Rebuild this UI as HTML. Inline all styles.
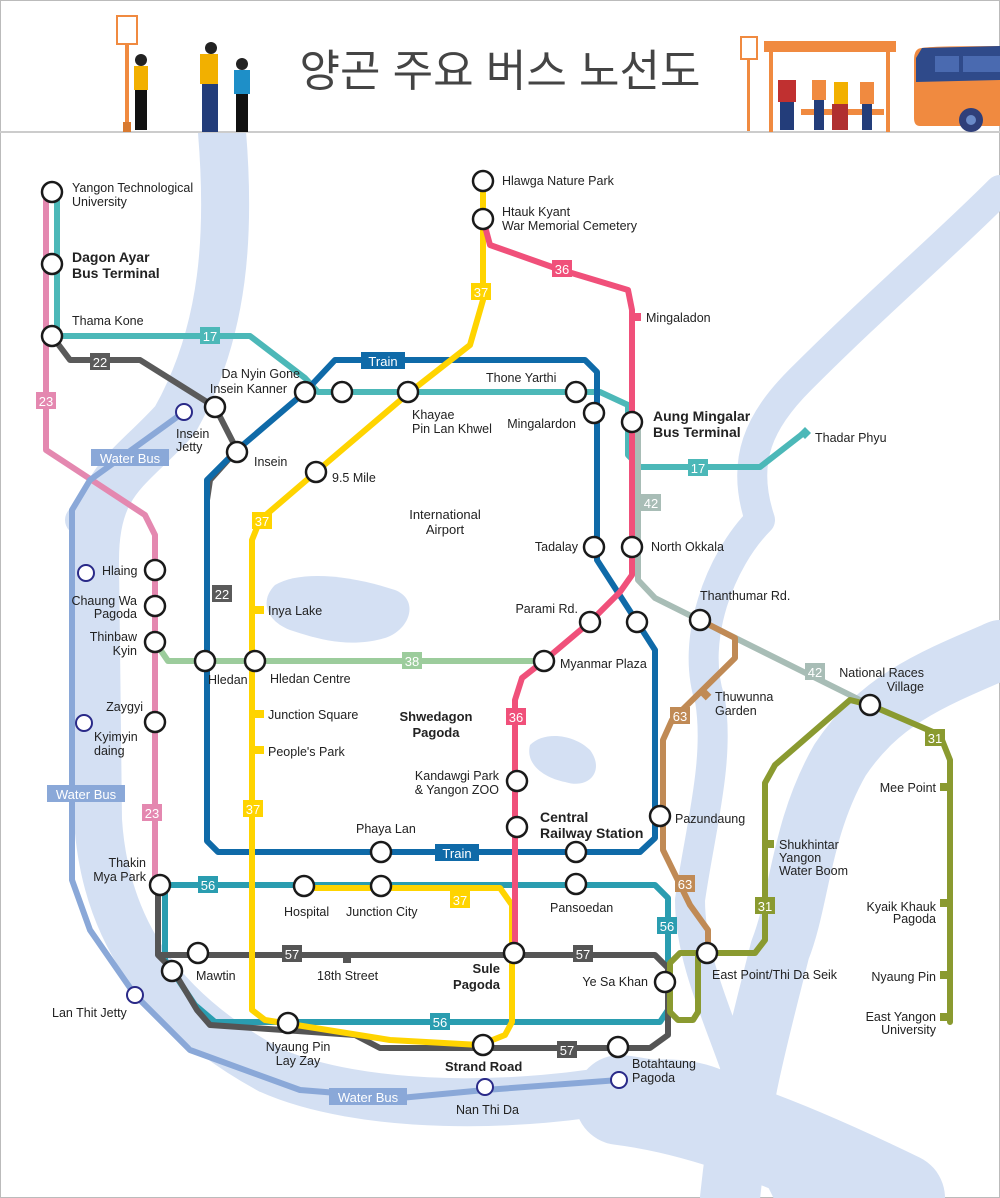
<!DOCTYPE html>
<html><head><meta charset="utf-8"><style>
html,body{margin:0;padding:0;background:#fff}
svg{display:block}
text{font-family:"Liberation Sans","Noto Sans CJK KR",sans-serif;font-size:12.5px;fill:#222}
.b{font-size:14px;font-weight:bold}
.r{text-anchor:end}.m{text-anchor:middle}
.st{fill:#fff;stroke:#1a1a1a;stroke-width:2.5}
.jt{fill:#fff;stroke:#2a2a88;stroke-width:2}
.ln{fill:none;stroke-width:6;stroke-linejoin:round;stroke-linecap:round}
.lb{font-size:13px;fill:#fff;text-anchor:middle}
</style></head><body>
<svg width="1000" height="1198" viewBox="0 0 1000 1198" xmlns="http://www.w3.org/2000/svg">
<rect x="0.5" y="0.5" width="999" height="1197" fill="#fff" stroke="#bbb"/>
<!-- rivers -->
<g fill="none" stroke="#d4e0f3" stroke-linecap="round" stroke-linejoin="round">
<path d="M222 132 C230 230 226 330 175 420 C130 470 95 480 95 560 L98 820 C105 930 160 1010 270 1070 C360 1110 520 1110 640 1085 C720 1075 760 1110 800 1198" stroke-width="48"/>
<path d="M80 520 L130 470" stroke-width="30"/>
<path d="M1000 190 C940 250 880 300 800 380 C760 420 740 460 760 520 C720 560 690 640 710 700 C720 760 700 830 690 900 C690 960 720 1020 740 1080" stroke-width="30"/>
<path d="M1000 650 C930 680 880 700 840 760 C800 830 800 900 780 950 C760 1030 740 1100 730 1198" stroke-width="60"/>
<path d="M620 1100 C700 1110 780 1140 900 1198" stroke-width="90"/>
</g>
<path d="M275 585 C300 570 350 575 395 590 C420 600 410 630 385 638 C350 648 320 640 290 630 C265 620 260 600 275 585Z" fill="#d4e0f3"/>
<path d="M530 745 C545 730 575 735 590 750 C605 770 590 790 565 782 C545 778 525 765 530 745Z" fill="#d4e0f3"/>
<!-- header -->
<rect x="1" y="1" width="998" height="131" fill="#fff"/>
<line x1="0" y1="132" x2="1000" y2="132" stroke="#ccc" stroke-width="2"/>
<text x="500" y="86" class="m" style="font-size:44px;fill:#444">양곤 주요 버스 노선도</text>
<!-- left illus -->
<rect x="117" y="16" width="20" height="28" fill="#fff" stroke="#f08a40" stroke-width="2"/>
<rect x="125" y="44" width="4" height="80" fill="#f08a40"/><rect x="123" y="122" width="8" height="10" fill="#d87a30"/>
<circle cx="141" cy="60" r="6" fill="#222"/><rect x="134" y="66" width="14" height="24" fill="#f2b000"/><rect x="135" y="90" width="12" height="40" fill="#111"/>
<circle cx="211" cy="48" r="6" fill="#222"/><rect x="200" y="54" width="18" height="30" fill="#f2b000"/><rect x="202" y="84" width="16" height="48" fill="#233d7a"/>
<circle cx="242" cy="64" r="6" fill="#222"/><rect x="234" y="70" width="16" height="24" fill="#1e8fc8"/><rect x="236" y="94" width="12" height="38" fill="#111"/>
<!-- right illus -->
<rect x="741" y="37" width="16" height="22" fill="#fff" stroke="#f08a40" stroke-width="2"/><rect x="747" y="59" width="3" height="72" fill="#f08a40"/>
<rect x="764" y="41" width="132" height="11" fill="#f08a40"/>
<rect x="769" y="52" width="4" height="80" fill="#f08a40"/><rect x="886" y="52" width="4" height="80" fill="#f08a40"/>
<rect x="801" y="109" width="83" height="6" fill="#f08a40"/>
<rect x="778" y="80" width="18" height="22" fill="#c03030"/><rect x="780" y="102" width="14" height="28" fill="#233d7a"/>
<rect x="812" y="80" width="14" height="20" fill="#f08a40"/><rect x="814" y="100" width="10" height="30" fill="#233d7a"/>
<rect x="834" y="82" width="14" height="22" fill="#f2b000"/><rect x="832" y="104" width="16" height="26" fill="#b03030"/>
<rect x="860" y="82" width="14" height="22" fill="#f08a40"/><rect x="862" y="104" width="10" height="26" fill="#233d7a"/>
<path d="M922 48 Q930 46 1000 46 L1000 126 L920 126 Q914 126 914 118 L914 60 Q914 48 922 48Z" fill="#f08a40"/>
<path d="M922 48 L1000 46 L1000 80 L916 82 L916 58Z" fill="#2f4a8a"/>
<rect x="935" y="56" width="24" height="16" fill="#4a6ab0"/><rect x="963" y="56" width="37" height="16" fill="#4a6ab0"/>
<circle cx="971" cy="120" r="12" fill="#2f3f7a"/><circle cx="971" cy="120" r="5" fill="#6a8ac8"/>
<!-- lines -->
<path class="ln" stroke="#e488b0" d="M46 192 V450 L145 515 L155 535 V885"/>
<path class="ln" stroke="#4cb8b8" d="M57 192 V336 H250 L305 378 L318 392 H600 L628 405 V455 L640 467 H760 L805 432"/>
<path class="ln" stroke="#5a5a5a" d="M52 336 L70 360 H140 L215 407 L237 450 L210 480 L207 500 V661"/>
<path class="ln" stroke="#a8bdb6" d="M638 422 V580 L655 598 L870 705"/>
<path class="ln" stroke="#0f6aa8" d="M305 392 L335 360 H585 L597 372 V560 L637 622 L655 650 V838 L640 852 H218 L207 841 V480 L237 450 Z"/>
<path class="ln" stroke="#9ccc9c" d="M155 642 L168 661 H544"/>
<path class="ln" stroke="#2a9db0" d="M160 885 H655 L668 898 V1010 L660 1022 H215 L195 1005 L165 960 V885"/>
<path class="ln" stroke="#555" d="M158 885 V955 H655 L668 968 V1035 L650 1048 H380 L355 1035 L210 1025 L197 1010 L173 970 L158 955"/>
<path class="ln" stroke="#ffd400" d="M483 181 V300 L470 345 L410 392 L316 472 L260 520 L252 540 V1010 L265 1020 L390 1040 L480 1045 L505 1035 L512 1022 V905 L500 888 H300"/>
<path class="ln" stroke="#f0507a" d="M483 219 L490 245 L555 268 L628 290 L632 310 V575 L620 592 L590 622 L545 660 L522 678 L515 700 V953"/>
<path class="ln" stroke="#c08a55" d="M700 620 L735 638 V658 L672 720 L663 740 V850 L690 905 L708 930 V953"/>
<path class="ln" stroke="#8a9a30" d="M870 705 L850 700 L775 765 L765 783 V940 L755 953 H680 L670 963 V1012 L678 1020 H693 L698 1012 V955 M870 705 L940 735 L950 760 V1022"/>
<path class="ln" stroke="#8aa8d8" d="M184 412 L90 480 L72 510 V880 L90 930 L135 995 L190 1050 L300 1090 L400 1098 L485 1090 L619 1080"/>
<path d="M805 427 L811 433 L805 439 L799 433Z" fill="#4cb8b8"/>
<!-- ticks -->
<g fill="#f0507a"><rect x="632" y="313" width="9" height="8"/></g>
<g fill="#ffd400"><rect x="255" y="606" width="9" height="8"/><rect x="255" y="710" width="9" height="8"/><rect x="255" y="746" width="9" height="8"/></g>
<rect x="701" y="690" width="9" height="8" fill="#c08a55" transform="rotate(45 705 694)"/>
<g fill="#8a9a30"><rect x="765" y="840" width="9" height="8"/><rect x="940" y="783" width="9" height="8"/><rect x="940" y="899" width="9" height="8"/><rect x="940" y="971" width="9" height="8"/><rect x="940" y="1013" width="9" height="8"/></g>
<rect x="343" y="953" width="8" height="10" fill="#555"/>
<!-- labels boxes -->
<g>
<rect x="200" y="327" width="20" height="17" fill="#4cb8b8"/><text x="210" y="341" class="lb">17</text>
<rect x="688" y="459" width="20" height="17" fill="#4cb8b8"/><text x="698" y="473" class="lb">17</text>
<rect x="90" y="353" width="20" height="17" fill="#5a5a5a"/><text x="100" y="367" class="lb">22</text>
<rect x="212" y="585" width="20" height="17" fill="#5a5a5a"/><text x="222" y="599" class="lb">22</text>
<rect x="36" y="392" width="20" height="17" fill="#e488b0"/><text x="46" y="406" class="lb">23</text>
<rect x="142" y="804" width="20" height="17" fill="#e488b0"/><text x="152" y="818" class="lb">23</text>
<rect x="471" y="283" width="20" height="17" fill="#ffd400"/><text x="481" y="297" class="lb">37</text>
<rect x="252" y="512" width="20" height="17" fill="#ffd400"/><text x="262" y="526" class="lb">37</text>
<rect x="243" y="800" width="20" height="17" fill="#ffd400"/><text x="253" y="814" class="lb">37</text>
<rect x="450" y="891" width="20" height="17" fill="#ffd400"/><text x="460" y="905" class="lb">37</text>
<rect x="552" y="260" width="20" height="17" fill="#f0507a"/><text x="562" y="274" class="lb">36</text>
<rect x="506" y="708" width="20" height="17" fill="#f0507a"/><text x="516" y="722" class="lb">36</text>
<rect x="641" y="494" width="20" height="17" fill="#a8bdb6"/><text x="651" y="508" class="lb">42</text>
<rect x="805" y="663" width="20" height="17" fill="#a8bdb6"/><text x="815" y="677" class="lb">42</text>
<rect x="402" y="652" width="20" height="17" fill="#9ccc9c"/><text x="412" y="666" class="lb">38</text>
<rect x="670" y="707" width="20" height="17" fill="#c08a55"/><text x="680" y="721" class="lb">63</text>
<rect x="675" y="875" width="20" height="17" fill="#c08a55"/><text x="685" y="889" class="lb">63</text>
<rect x="755" y="897" width="20" height="17" fill="#8a9a30"/><text x="765" y="911" class="lb">31</text>
<rect x="925" y="729" width="20" height="17" fill="#8a9a30"/><text x="935" y="743" class="lb">31</text>
<rect x="198" y="876" width="20" height="17" fill="#2a9db0"/><text x="208" y="890" class="lb">56</text>
<rect x="657" y="917" width="20" height="17" fill="#2a9db0"/><text x="667" y="931" class="lb">56</text>
<rect x="430" y="1013" width="20" height="17" fill="#2a9db0"/><text x="440" y="1027" class="lb">56</text>
<rect x="282" y="945" width="20" height="17" fill="#555"/><text x="292" y="959" class="lb">57</text>
<rect x="573" y="945" width="20" height="17" fill="#555"/><text x="583" y="959" class="lb">57</text>
<rect x="557" y="1041" width="20" height="17" fill="#555"/><text x="567" y="1055" class="lb">57</text>
<rect x="361" y="352" width="44" height="17" fill="#0f6aa8"/><text x="383" y="366" class="lb">Train</text>
<rect x="435" y="844" width="44" height="17" fill="#0f6aa8"/><text x="457" y="858" class="lb">Train</text>
<rect x="91" y="449" width="78" height="17" fill="#8aa8d8"/><text x="130" y="463" class="lb">Water Bus</text>
<rect x="47" y="785" width="78" height="17" fill="#8aa8d8"/><text x="86" y="799" class="lb">Water Bus</text>
<rect x="329" y="1088" width="78" height="17" fill="#8aa8d8"/><text x="368" y="1102" class="lb">Water Bus</text>
</g>
<!-- stations -->
<g class="st">
<circle cx="52" cy="192" r="10"/><circle cx="52" cy="264" r="10"/><circle cx="52" cy="336" r="10"/>
<circle cx="305" cy="392" r="10"/><circle cx="342" cy="392" r="10"/><circle cx="408" cy="392" r="10"/>
<circle cx="576" cy="392" r="10"/><circle cx="594" cy="413" r="10"/><circle cx="632" cy="422" r="10"/>
<circle cx="215" cy="407" r="10"/><circle cx="237" cy="452" r="10"/><circle cx="316" cy="472" r="10"/>
<circle cx="483" cy="181" r="10"/><circle cx="483" cy="219" r="10"/>
<circle cx="594" cy="547" r="10"/><circle cx="632" cy="547" r="10"/>
<circle cx="700" cy="620" r="10"/><circle cx="590" cy="622" r="10"/><circle cx="637" cy="622" r="10"/>
<circle cx="544" cy="661" r="10"/><circle cx="870" cy="705" r="10"/>
<circle cx="155" cy="570" r="10"/><circle cx="155" cy="606" r="10"/><circle cx="155" cy="642" r="10"/>
<circle cx="205" cy="661" r="10"/><circle cx="255" cy="661" r="10"/><circle cx="155" cy="722" r="10"/>
<circle cx="517" cy="781" r="10"/><circle cx="517" cy="827" r="10"/><circle cx="660" cy="816" r="10"/>
<circle cx="381" cy="852" r="10"/><circle cx="576" cy="852" r="10"/>
<circle cx="160" cy="885" r="10"/><circle cx="304" cy="886" r="10"/><circle cx="381" cy="886" r="10"/><circle cx="576" cy="884" r="10"/>
<circle cx="198" cy="953" r="10"/><circle cx="172" cy="971" r="10"/><circle cx="514" cy="953" r="10"/>
<circle cx="665" cy="982" r="10"/><circle cx="707" cy="953" r="10"/>
<circle cx="288" cy="1023" r="10"/><circle cx="483" cy="1045" r="10"/><circle cx="618" cy="1047" r="10"/>
</g>
<g class="jt">
<circle cx="184" cy="412" r="8"/><circle cx="86" cy="573" r="8"/><circle cx="84" cy="723" r="8"/>
<circle cx="135" cy="995" r="8"/><circle cx="485" cy="1087" r="8"/><circle cx="619" cy="1080" r="8"/>
</g>
<!-- text labels -->
<text x="72" y="192">Yangon Technological</text><text x="72" y="206">University</text>
<text x="72" y="262" class="b">Dagon Ayar</text><text x="72" y="278" class="b">Bus Terminal</text>
<text x="72" y="325">Thama Kone</text>
<text x="300" y="378" class="r">Da Nyin Gone</text>
<text x="287" y="393" class="r">Insein Kanner</text>
<text x="412" y="419">Khayae</text><text x="412" y="433">Pin Lan Khwel</text>
<text x="486" y="382">Thone Yarthi</text>
<text x="576" y="428" class="r">Mingalardon</text>
<text x="653" y="421" class="b">Aung Mingalar</text><text x="653" y="437" class="b">Bus Terminal</text>
<text x="254" y="466">Insein</text>
<text x="176" y="438">Insein</text><text x="176" y="451">Jetty</text>
<text x="332" y="482">9.5 Mile</text>
<text x="815" y="442">Thadar Phyu</text>
<text x="502" y="185">Hlawga Nature Park</text>
<text x="502" y="216">Htauk Kyant</text><text x="502" y="230">War Memorial Cemetery</text>
<text x="646" y="322">Mingaladon</text>
<text x="445" y="519" class="m" style="font-size:13px">International</text><text x="445" y="534" class="m" style="font-size:13px">Airport</text>
<text x="578" y="551" class="r">Tadalay</text>
<text x="651" y="551">North Okkala</text>
<text x="700" y="600">Thanthumar Rd.</text>
<text x="578" y="613" class="r">Parami Rd.</text>
<text x="560" y="668">Myanmar Plaza</text>
<text x="924" y="677" class="r">National Races</text><text x="924" y="691" class="r">Village</text>
<text x="715" y="701">Thuwunna</text><text x="715" y="715">Garden</text>
<text x="102" y="575">Hlaing</text>
<text x="137" y="605" class="r">Chaung Wa</text><text x="137" y="618" class="r">Pagoda</text>
<text x="137" y="641" class="r">Thinbaw</text><text x="137" y="655" class="r">Kyin</text>
<text x="208" y="684">Hledan</text>
<text x="270" y="683">Hledan Centre</text>
<text x="268" y="615">Inya Lake</text>
<text x="268" y="719">Junction Square</text>
<text x="268" y="756">People's Park</text>
<text x="436" y="721" class="m" style="font-size:13px;font-weight:bold">Shwedagon</text><text x="436" y="737" class="m" style="font-size:13px;font-weight:bold">Pagoda</text>
<text x="143" y="711" class="r">Zaygyi</text>
<text x="94" y="741">Kyimyin</text><text x="94" y="755">daing</text>
<text x="499" y="780" class="r">Kandawgi Park</text><text x="499" y="794" class="r">&amp; Yangon ZOO</text>
<text x="540" y="822" class="b">Central</text><text x="540" y="838" class="b">Railway Station</text>
<text x="675" y="823">Pazundaung</text>
<text x="356" y="833">Phaya Lan</text>
<text x="146" y="867" class="r">Thakin</text><text x="146" y="881" class="r">Mya Park</text>
<text x="284" y="916">Hospital</text>
<text x="346" y="916">Junction City</text>
<text x="550" y="912">Pansoedan</text>
<text x="779" y="849">Shukhintar</text><text x="779" y="862">Yangon</text><text x="779" y="875">Water Boom</text>
<text x="936" y="792" class="r">Mee Point</text>
<text x="936" y="911" class="r">Kyaik Khauk</text><text x="936" y="923" class="r">Pagoda</text>
<text x="936" y="981" class="r">Nyaung Pin</text>
<text x="936" y="1021" class="r">East Yangon</text><text x="936" y="1034" class="r">University</text>
<text x="196" y="980">Mawtin</text>
<text x="317" y="980">18th Street</text>
<text x="500" y="973" class="r b" style="font-size:13px">Sule</text><text x="500" y="989" class="r b" style="font-size:13px">Pagoda</text>
<text x="648" y="986" class="r">Ye Sa Khan</text>
<text x="712" y="979">East Point/Thi Da Seik</text>
<text x="52" y="1017">Lan Thit Jetty</text>
<text x="298" y="1051" class="m">Nyaung Pin</text><text x="298" y="1065" class="m">Lay Zay</text>
<text x="445" y="1071" class="b" style="font-size:13px">Strand Road</text>
<text x="632" y="1068">Botahtaung</text><text x="632" y="1082">Pagoda</text>
<text x="456" y="1114">Nan Thi Da</text>
</svg>
</body></html>
